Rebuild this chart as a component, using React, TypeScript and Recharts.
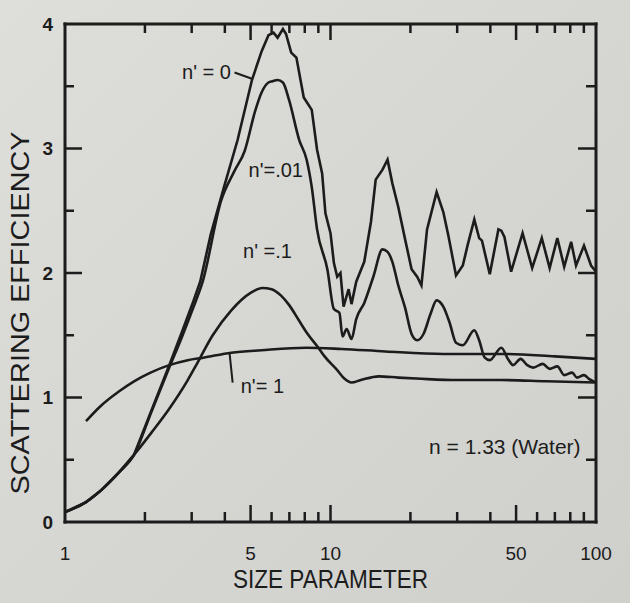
import { LineChart, Line, XAxis, YAxis, ReferenceDot, ReferenceLine } from "recharts";

const INK = "#1c1c1c";
const FONT = "'Liberation Sans', Arial, sans-serif";

const X_TICKS = [1, 2, 3, 4, 5, 6, 7, 8, 9, 10, 20, 30, 40, 50, 60, 70, 80, 90, 100];
const X_LABELS = [1, 5, 10, 50, 100];
const X_MAJOR = [5, 10, 50];
const Y_TICKS = [0, 0.5, 1, 1.5, 2, 2.5, 3, 3.5, 4];
const Y_LABELS = [0, 1, 2, 3, 4];

// n' = 0 (no absorption)
const N0_X = [1.0, 1.2, 1.36, 1.6, 1.82, 2.12, 2.47, 2.75, 3.04, 3.23, 3.54, 3.97, 4.47, 5.06, 5.5, 5.84, 6.1, 6.32, 6.62, 6.8, 7.11, 7.44, 7.93, 8.5, 8.9, 9.3, 9.57, 10.0, 10.3, 10.6, 10.9, 11.2, 11.7, 12.0, 12.5, 13.4, 14.2, 14.8, 15.7, 16.4, 17.1, 18.0, 19.1, 20.2, 21.2, 22.0, 23.1, 25.1, 26.6, 27.8, 29.7, 31.5, 32.9, 34.8, 36.3, 37.2, 39.8, 42.9, 44.0, 45.2, 47.9, 52.9, 57.5, 62.5, 66.9, 71.5, 75.9, 80.6, 84.1, 90.1, 95.8, 100];
const N0_Q = [0.08, 0.16, 0.25, 0.4, 0.54, 0.9, 1.26, 1.52, 1.77, 1.93, 2.31, 2.69, 3.07, 3.55, 3.78, 3.91, 3.93, 3.89, 3.96, 3.92, 3.77, 3.73, 3.41, 3.31, 2.99, 2.8, 2.48, 2.32, 2.08, 1.97, 2.0, 1.73, 1.87, 1.75, 1.93, 2.09, 2.41, 2.75, 2.83, 2.91, 2.72, 2.53, 2.27, 2.03, 1.97, 1.9, 2.35, 2.65, 2.49, 2.3, 1.98, 2.06, 2.23, 2.43, 2.28, 2.26, 1.99, 2.35, 2.34, 2.29, 2.01, 2.32, 2.04, 2.28, 2.04, 2.28, 2.05, 2.25, 2.06, 2.22, 2.06, 2.01];

// n' = .01
const N01_X = [1.0, 1.2, 1.36, 1.6, 1.82, 2.12, 2.47, 2.75, 3.04, 3.3, 3.87, 4.35, 4.75, 5.2, 5.5, 5.84, 6.05, 6.32, 6.62, 6.98, 7.62, 8.13, 8.5, 8.9, 9.73, 10.3, 10.8, 11.1, 11.5, 12.0, 12.5, 13.4, 14.5, 15.7, 16.4, 17.1, 18.0, 19.1, 20.2, 21.2, 22.4, 23.8, 25.1, 26.6, 28.1, 29.7, 31.5, 34.8, 36.3, 38.1, 39.8, 44.0, 46.6, 48.7, 52.0, 55.1, 58.0, 63.0, 66.9, 71.5, 75.9, 81.3, 84.8, 90.1, 94.0, 100];
const N01_Q = [0.08, 0.16, 0.25, 0.4, 0.54, 0.89, 1.24, 1.48, 1.72, 1.93, 2.58, 2.82, 2.98, 3.3, 3.45, 3.53, 3.54, 3.55, 3.53, 3.39, 3.07, 2.91, 2.69, 2.35, 2.03, 1.71, 1.68, 1.49, 1.55, 1.47, 1.63, 1.76, 1.97, 2.19, 2.17, 2.09, 1.9, 1.72, 1.51, 1.46, 1.51, 1.67, 1.78, 1.73, 1.6, 1.44, 1.42, 1.54, 1.46, 1.32, 1.3, 1.4, 1.31, 1.26, 1.31, 1.26, 1.24, 1.27, 1.23, 1.25, 1.18, 1.2, 1.16, 1.18, 1.15, 1.12];

// n' = .1
const N1_X = [1.0, 1.2, 1.36, 1.6, 1.82, 2.12, 2.47, 2.9, 3.12, 3.6, 4.23, 5.0, 5.54, 6.0, 6.5, 7.0, 7.6, 8.14, 9.0, 9.5, 10.6, 11.3, 12.0, 13.0, 15.2, 18.0, 22.0, 30.0, 44.0, 65.0, 100];
const N1_Q = [0.08, 0.16, 0.25, 0.4, 0.54, 0.72, 0.91, 1.14, 1.26, 1.5, 1.7, 1.84, 1.88, 1.87, 1.82, 1.74, 1.62, 1.52, 1.4, 1.33, 1.22, 1.15, 1.12, 1.14, 1.17, 1.16, 1.15, 1.14, 1.14, 1.13, 1.12];

// n' = 1
const N10_X = [1.2, 1.36, 1.6, 1.82, 2.1, 2.47, 2.9, 3.32, 4.23, 5.5, 8.1, 11.0, 16.1, 26.6, 44.0, 70.0, 100];
const N10_Q = [0.81, 0.93, 1.05, 1.13, 1.2, 1.26, 1.3, 1.32, 1.36, 1.38, 1.4, 1.39, 1.37, 1.35, 1.35, 1.33, 1.31];

const NOTE_TEXT = ["n' = 0", "n'=.01", "n' =.1", "n'= 1", "n = 1.33 (Water)"];
const NOTE_X = [3.41, 6.22, 5.79, 5.54, 87.5];
const NOTE_Y = [3.62, 2.83, 2.18, 1.09, 0.61];
const NOTE_ANCHOR = ["middle", "middle", "middle", "middle", "end"];

// leader lines from labels to curves
const LEADERS = [
  [{ x: 4.35, y: 3.61 }, { x: 5.06, y: 3.56 }],
  [{ x: 4.17, y: 1.35 }, { x: 4.28, y: 1.12 }],
];

const toPoints = (xs: number[], qs: number[]) => xs.map((x, i) => ({ x, q: qs[i] }));

function BottomTick({ x, y, payload }: any) {
  const v = payload.value;
  const len = X_MAJOR.includes(v) ? 17 : 10;
  const edge = v === 1 || v === 100;
  return (
    <g>
      {!edge && <line x1={x} y1={y} x2={x} y2={y - len} stroke={INK} strokeWidth={2.5} />}
      {X_LABELS.includes(v) && (
        <text x={x} y={y + 38} textAnchor="middle" fontSize={19} fill={INK} fontFamily={FONT}>
          {v}
        </text>
      )}
    </g>
  );
}

function TopTick({ x, y, payload }: any) {
  const v = payload.value;
  if (v === 1 || v === 100) return <g />;
  const len = X_MAJOR.includes(v) ? 16 : 9;
  return <line x1={x} y1={y} x2={x} y2={y + len} stroke={INK} strokeWidth={2.5} />;
}

function LeftTick({ x, y, payload }: any) {
  const v = payload.value;
  const major = Number.isInteger(v);
  const edge = v === 0 || v === 4;
  return (
    <g>
      {!edge && <line x1={x} y1={y} x2={x + (major ? 17 : 9)} y2={y} stroke={INK} strokeWidth={2.5} />}
      {Y_LABELS.includes(v) && (
        <text x={x - 12} y={y} dy="0.36em" textAnchor="end" fontSize={19} fontWeight="bold" fill={INK} fontFamily={FONT}>
          {v}
        </text>
      )}
    </g>
  );
}

function RightTick({ x, y, payload }: any) {
  const v = payload.value;
  if (v === 0 || v === 4) return <g />;
  const len = Number.isInteger(v) ? 18 : 10;
  return <line x1={x} y1={y} x2={x - len} y2={y} stroke={INK} strokeWidth={2.5} />;
}

const noteLabel = (text: string, anchor: string, size: number) => (props: any) => {
  const vb = props.viewBox;
  return (
    <text
      x={vb.x + vb.width / 2}
      y={vb.y + vb.height / 2}
      dy="0.36em"
      textAnchor={anchor}
      fontSize={size}
      fill={INK}
      fontFamily={FONT}
    >
      {text}
    </text>
  );
};

const xTitle = (props: any) => {
  const vb = props.viewBox;
  return (
    <text
      x={vb.x + vb.width / 2}
      y={vb.y + 66}
      textAnchor="middle"
      fontSize={25}
      fill={INK}
      fontFamily={FONT}
      textLength={195}
      lengthAdjust="spacingAndGlyphs"
    >
      SIZE PARAMETER
    </text>
  );
};

const yTitle = (props: any) => {
  const vb = props.viewBox;
  const cx = vb.x + 24;
  const cy = vb.y + vb.height / 2 + 40;
  return (
    <text
      x={cx}
      y={cy}
      transform={`rotate(-90, ${cx}, ${cy})`}
      textAnchor="middle"
      fontSize={26}
      fill={INK}
      fontFamily={FONT}
      textLength={363}
      lengthAdjust="spacingAndGlyphs"
    >
      SCATTERING EFFICIENCY
    </text>
  );
};

const frameLine = { stroke: INK, strokeWidth: 3, strokeLinecap: "square" as const };

export default function App() {
  const series = [
    { key: "n0", data: toPoints(N0_X, N0_Q), type: "linear" },
    { key: "n01", data: toPoints(N01_X, N01_Q), type: "monotone" },
    { key: "n1", data: toPoints(N1_X, N1_Q), type: "monotone" },
    { key: "n10", data: toPoints(N10_X, N10_Q), type: "monotone" },
  ];

  return (
    <div
      style={{
        position: "absolute",
        top: 0,
        left: 0,
        width: 630,
        height: 603,
        background: "linear-gradient(135deg, #dededb 0%, #d6d6d3 50%, #cfcfcc 100%)",
      }}
    >
      <LineChart width={630} height={603} margin={{ top: 23, right: 33, bottom: 21, left: 5 }}>
        <XAxis
          dataKey="x"
          type="number"
          scale="log"
          domain={[1, 100]}
          allowDataOverflow
          ticks={X_TICKS}
          interval={0}
          height={60}
          tickSize={0}
          tickMargin={0}
          tick={<BottomTick />}
          axisLine={frameLine}
          label={xTitle}
        />
        <XAxis
          xAxisId="top"
          orientation="top"
          dataKey="x"
          type="number"
          scale="log"
          domain={[1, 100]}
          allowDataOverflow
          ticks={X_TICKS}
          interval={0}
          height={1}
          tickSize={0}
          tickMargin={0}
          tick={<TopTick />}
          axisLine={frameLine}
        />
        <YAxis
          type="number"
          domain={[0, 4]}
          allowDataOverflow
          ticks={Y_TICKS}
          interval={0}
          width={60}
          tickSize={0}
          tickMargin={0}
          tick={<LeftTick />}
          axisLine={frameLine}
          label={yTitle}
        />
        <YAxis
          yAxisId="right"
          orientation="right"
          type="number"
          domain={[0, 4]}
          allowDataOverflow
          ticks={Y_TICKS}
          interval={0}
          width={1}
          tickSize={0}
          tickMargin={0}
          tick={<RightTick />}
          axisLine={frameLine}
        />
        {series.map((s) => (
          <Line
            key={s.key}
            data={s.data}
            dataKey="q"
            type={s.type as any}
            stroke={INK}
            strokeWidth={2.6}
            dot={false}
            activeDot={false}
            isAnimationActive={false}
          />
        ))}
        {LEADERS.map((seg, i) => (
          <ReferenceLine key={`lead-${i}`} segment={seg} stroke={INK} strokeWidth={2} />
        ))}
        {NOTE_TEXT.map((t, i) => (
          <ReferenceDot
            key={`note-${i}`}
            x={NOTE_X[i]}
            y={NOTE_Y[i]}
            r={0}
            fill="none"
            stroke="none"
            label={noteLabel(t, NOTE_ANCHOR[i], i === 4 ? 21 : 20)}
          />
        ))}
      </LineChart>
    </div>
  );
}
